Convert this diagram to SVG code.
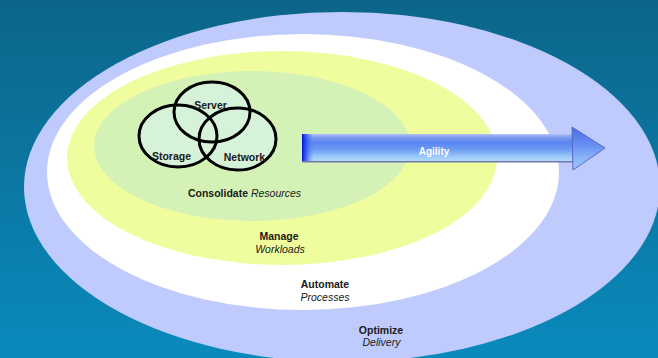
<svg xmlns="http://www.w3.org/2000/svg" width="658" height="358" viewBox="0 0 658 358">
  <defs>
    <linearGradient id="bg" x1="0" y1="0" x2="0" y2="1">
      <stop offset="0" stop-color="#0c6589"/>
      <stop offset="1" stop-color="#0a8abc"/>
    </linearGradient>
    <linearGradient id="shaft" x1="0" y1="0" x2="0" y2="1">
      <stop offset="0" stop-color="#b2c2f6"/>
      <stop offset="0.12" stop-color="#7f9cf2"/>
      <stop offset="0.3" stop-color="#5a84f0"/>
      <stop offset="0.55" stop-color="#6c9cf4"/>
      <stop offset="0.8" stop-color="#9ccaf9"/>
      <stop offset="0.93" stop-color="#b0d8fc"/>
      <stop offset="0.94" stop-color="#7078aa"/>
      <stop offset="1" stop-color="#7078aa"/>
    </linearGradient>
    <linearGradient id="shaftEnd" x1="0" y1="0" x2="1" y2="0">
      <stop offset="0" stop-color="#0012dc" stop-opacity="1"/>
      <stop offset="0.35" stop-color="#1d3ee8" stop-opacity="0.7"/>
      <stop offset="1" stop-color="#5a84f0" stop-opacity="0"/>
    </linearGradient>
    <linearGradient id="head" x1="0" y1="0" x2="0" y2="1">
      <stop offset="0" stop-color="#4a6ce6"/>
      <stop offset="0.45" stop-color="#6a92f2"/>
      <stop offset="0.75" stop-color="#8cb8f8"/>
      <stop offset="1" stop-color="#9cc8fa"/>
    </linearGradient>
    <style>
      .lbl { font-family: "Liberation Sans", Arial, sans-serif; font-size: 10.5px; fill: #1a1a1a; text-anchor: middle; }
      .b { font-weight: bold; }
      .i { font-style: italic; }
      .venn-fill { fill: #d6f2d8; stroke: none; }
      .venn-line { fill: none; stroke: #000; stroke-width: 3; }
    </style>
  </defs>

  <rect x="0" y="0" width="658" height="358" fill="url(#bg)"/>

  <g id="optimize">
    <ellipse cx="342" cy="187" rx="318" ry="175" fill="#c0cbfd"/>
  </g>
  <g id="automate">
    <ellipse cx="303" cy="172" rx="256" ry="138" fill="#ffffff"/>
  </g>
  <g id="manage">
    <ellipse cx="282" cy="158" rx="215" ry="107" fill="#f0fd9f"/>
  </g>
  <g id="consolidate">
    <ellipse cx="252" cy="146" rx="158" ry="75" fill="#d5f2b6"/>
  </g>

  <g id="venn">
    <ellipse class="venn-fill" cx="212" cy="112" rx="38" ry="30"/>
    <ellipse class="venn-fill" cx="178" cy="136" rx="39" ry="31"/>
    <ellipse class="venn-fill" cx="237.5" cy="139" rx="38.5" ry="31"/>
    <g id="server"><ellipse class="venn-line" cx="212" cy="112" rx="38" ry="30"/></g>
    <g id="storage"><ellipse class="venn-line" cx="178" cy="136" rx="39" ry="31"/></g>
    <g id="network"><ellipse class="venn-line" cx="237.5" cy="139" rx="38.5" ry="31"/></g>
    <text class="lbl b" x="210.5" y="109">Server</text>
    <text class="lbl b" x="171.5" y="160">Storage</text>
    <text class="lbl b" x="244.5" y="160.5">Network</text>
  </g>

  <g id="labels">
    <text class="lbl" x="244.5" y="197"><tspan class="b">Consolidate</tspan> <tspan class="i">Resources</tspan></text>
    <text class="lbl b" x="279" y="240">Manage</text>
    <text class="lbl i" x="280" y="252.5">Workloads</text>
    <text class="lbl b" x="325" y="288">Automate</text>
    <text class="lbl i" x="325" y="300.5">Processes</text>
    <text class="lbl b" x="381" y="333.5">Optimize</text>
    <text class="lbl i" x="381.5" y="346">Delivery</text>
  </g>

  <g id="connectors">
    <g id="agility-arrow">
      <rect x="302" y="134" width="272" height="28.5" fill="url(#shaft)"/>
      <rect x="302" y="134" width="12" height="27" fill="url(#shaftEnd)"/>
      <polygon points="572,127 605,148 573,170" fill="url(#head)" stroke="#5b66c4" stroke-width="1"/>
      <text x="434" y="154.5" font-family="Liberation Sans, Arial, sans-serif" font-size="10px" font-weight="bold" fill="#ffffff" text-anchor="middle">Agility</text>
    </g>
  </g>
</svg>
